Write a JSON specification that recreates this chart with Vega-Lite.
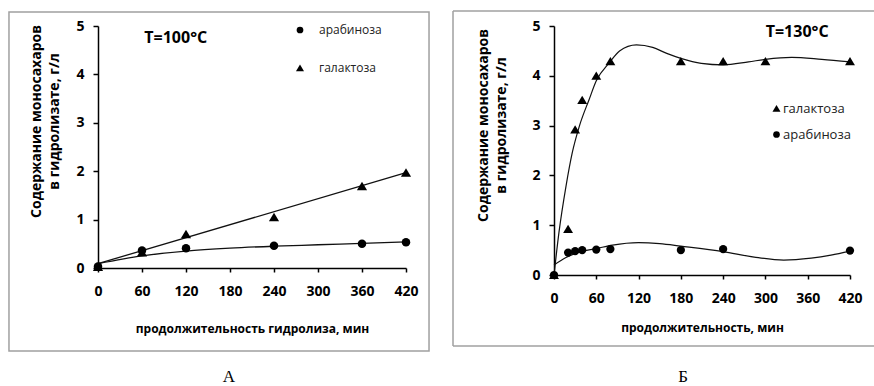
{
  "$schema": "https://vega.github.io/schema/vega-lite/v6.json",
  "padding": {"left": 8, "top": 10, "right": 0, "bottom": 0},
  "bounds": "flush",
  "spacing": 148,
  "background": "white",
  "config": {
    "view": {"stroke": null},
    "axis": {
      "grid": false, "domainColor": "#000", "domainWidth": 1.5, "tickColor": "#000", "tickWidth": 1.5,
      "labelFont": "Open Sans", "labelFontWeight": "bold", "labelFontSize": 14, "labelColor": "#000", "labelFlush": false,
      "titleFont": "Open Sans", "titleFontWeight": "bold", "titleFontSize": 12, "titleColor": "#000"
    },
    "axisX": {"tickSize": 4, "labelPadding": 12},
    "axisY": {"tickSize": 5, "labelPadding": 9, "titleLineHeight": 18, "titleFontSize": 14},
    "legend": {"padding": 0, "labelFont": "Open Sans", "labelFontSize": 12, "labelColor": "#222", "symbolFillColor": "#000", "symbolStrokeColor": "#000", "symbolSize": 45, "title": null}
  },
  "resolve": {"scale": {"shape": "independent"}, "legend": {"shape": "independent"}},
  "datasets": {
    "ptsA": [
      {"t": 0, "v": 0.03, "c": "арабиноза"}, {"t": 60, "v": 0.36, "c": "арабиноза"}, {"t": 120, "v": 0.41, "c": "арабиноза"},
      {"t": 240, "v": 0.46, "c": "арабиноза"}, {"t": 360, "v": 0.5, "c": "арабиноза"}, {"t": 420, "v": 0.53, "c": "арабиноза"},
      {"t": 0, "v": 0.02, "c": "галактоза"}, {"t": 60, "v": 0.32, "c": "галактоза"}, {"t": 120, "v": 0.7, "c": "галактоза"},
      {"t": 240, "v": 1.05, "c": "галактоза"}, {"t": 360, "v": 1.69, "c": "галактоза"}, {"t": 420, "v": 1.97, "c": "галактоза"}
    ],
    "fitA": [
      {"t": 0, "v": 0.09, "c": "галактоза"}, {"t": 420, "v": 1.97, "c": "галактоза"},
      {"t": 0, "v": 0.09, "c": "арабиноза"}, {"t": 60, "v": 0.25, "c": "арабиноза"}, {"t": 120, "v": 0.35, "c": "арабиноза"},
      {"t": 180, "v": 0.41, "c": "арабиноза"}, {"t": 240, "v": 0.45, "c": "арабиноза"}, {"t": 300, "v": 0.48, "c": "арабиноза"},
      {"t": 360, "v": 0.51, "c": "арабиноза"}, {"t": 420, "v": 0.54, "c": "арабиноза"}
    ],
    "ptsB": [
      {"t": 0, "v": 0, "c": "галактоза"}, {"t": 20, "v": 0.92, "c": "галактоза"}, {"t": 30, "v": 2.92, "c": "галактоза"},
      {"t": 40, "v": 3.51, "c": "галактоза"}, {"t": 60, "v": 4.0, "c": "галактоза"}, {"t": 80, "v": 4.29, "c": "галактоза"},
      {"t": 180, "v": 4.29, "c": "галактоза"}, {"t": 240, "v": 4.29, "c": "галактоза"}, {"t": 300, "v": 4.29, "c": "галактоза"},
      {"t": 420, "v": 4.29, "c": "галактоза"},
      {"t": 0, "v": 0, "c": "арабиноза"}, {"t": 20, "v": 0.45, "c": "арабиноза"}, {"t": 30, "v": 0.48, "c": "арабиноза"},
      {"t": 40, "v": 0.5, "c": "арабиноза"}, {"t": 60, "v": 0.51, "c": "арабиноза"}, {"t": 80, "v": 0.52, "c": "арабиноза"},
      {"t": 180, "v": 0.5, "c": "арабиноза"}, {"t": 240, "v": 0.52, "c": "арабиноза"}, {"t": 420, "v": 0.49, "c": "арабиноза"}
    ],
    "fitB": [
      {"t": 0, "v": 0.0, "c": "галактоза"}, {"t": 7, "v": 0.85, "c": "галактоза"}, {"t": 17, "v": 1.78, "c": "галактоза"},
      {"t": 26, "v": 2.46, "c": "галактоза"}, {"t": 36, "v": 2.99, "c": "галактоза"}, {"t": 50, "v": 3.53, "c": "галактоза"},
      {"t": 60, "v": 3.9, "c": "галактоза"}, {"t": 79, "v": 4.27, "c": "галактоза"}, {"t": 93, "v": 4.5, "c": "галактоза"},
      {"t": 117, "v": 4.62, "c": "галактоза"}, {"t": 140, "v": 4.57, "c": "галактоза"}, {"t": 160, "v": 4.45, "c": "галактоза"},
      {"t": 180, "v": 4.35, "c": "галактоза"}, {"t": 209, "v": 4.25, "c": "галактоза"}, {"t": 240, "v": 4.22, "c": "галактоза"},
      {"t": 276, "v": 4.28, "c": "галактоза"}, {"t": 300, "v": 4.33, "c": "галактоза"}, {"t": 337, "v": 4.37, "c": "галактоза"},
      {"t": 380, "v": 4.33, "c": "галактоза"}, {"t": 420, "v": 4.28, "c": "галактоза"},
      {"t": 0, "v": 0.2, "c": "арабиноза"}, {"t": 17, "v": 0.35, "c": "арабиноза"}, {"t": 36, "v": 0.46, "c": "арабиноза"},
      {"t": 60, "v": 0.53, "c": "арабиноза"}, {"t": 83, "v": 0.6, "c": "арабиноза"}, {"t": 120, "v": 0.65, "c": "арабиноза"},
      {"t": 150, "v": 0.63, "c": "арабиноза"}, {"t": 180, "v": 0.58, "c": "арабиноза"}, {"t": 240, "v": 0.47, "c": "арабиноза"},
      {"t": 284, "v": 0.36, "c": "арабиноза"}, {"t": 326, "v": 0.3, "c": "арабиноза"}, {"t": 365, "v": 0.34, "c": "арабиноза"},
      {"t": 393, "v": 0.4, "c": "арабиноза"}, {"t": 420, "v": 0.48, "c": "арабиноза"}
    ]
  },
  "hconcat": [
    {
      "width": 308, "height": 242,
      "title": {"text": "А", "orient": "bottom", "font": "Liberation Serif", "fontSize": 17, "fontWeight": "normal", "color": "#000", "offset": 17, "dx": -23},
      "layer": [
        {
          "data": {"values": [{}]},
          "mark": {"type": "rect", "fill": null, "stroke": "#a0a0a0", "strokeWidth": 1.5, "clip": false},
          "encoding": {
            "x": {"datum": -121.4, "type": "quantitative", "scale": {"domain": [0, 420], "nice": false, "zero": false}},
            "x2": {"datum": 451.4},
            "y": {"datum": 5.289, "type": "quantitative", "scale": {"domain": [0, 5], "nice": false}},
            "y2": {"datum": -1.715}
          }
        },
        {
          "data": {"name": "fitA"},
          "mark": {"type": "line", "color": "#111", "strokeWidth": 1.3, "interpolate": "monotone"},
          "encoding": {
            "x": {"field": "t", "type": "quantitative", "scale": {"domain": [0, 420], "nice": false, "zero": false}},
            "y": {"field": "v", "type": "quantitative", "scale": {"domain": [0, 5], "nice": false}},
            "detail": {"field": "c"}
          }
        },
        {
          "data": {"name": "ptsA"},
          "mark": {"type": "point", "filled": true, "color": "#000", "opacity": 1, "size": 72},
          "encoding": {
            "x": {"field": "t", "type": "quantitative", "scale": {"domain": [0, 420], "nice": false, "zero": false},
                  "axis": {"values": [0, 60, 120, 180, 240, 300, 360, 420], "title": "продолжительность гидролиза, мин", "titlePadding": 25}},
            "y": {"field": "v", "type": "quantitative", "scale": {"domain": [0, 5], "nice": false},
                  "axis": {"values": [0, 1, 2, 3, 4, 5], "title": ["Содержание моносахаров", "в гидролизате, г/л"], "titlePadding": 14, "titleY": 95}},
            "shape": {"field": "c", "type": "nominal",
                      "scale": {"domain": ["арабиноза", "галактоза"], "range": ["circle", "M0,-1.05L1.2,0.95L-1.2,0.95Z"]},
                      "legend": {"orient": "none", "legendX": 196, "legendY": -2, "labelOffset": 13, "rowPadding": 24}}
          }
        },
        {
          "data": {"values": [{}]},
          "mark": {"type": "text", "text": "T=100°C", "font": "Open Sans", "fontWeight": "bold", "fontSize": 16, "color": "#000", "align": "center", "baseline": "middle"},
          "encoding": {
            "x": {"datum": 106, "type": "quantitative"},
            "y": {"datum": 4.75, "type": "quantitative"}
          }
        }
      ]
    },
    {
      "width": 296, "height": 249,
      "title": {"text": "Б", "orient": "bottom", "font": "Liberation Serif", "fontSize": 17, "fontWeight": "normal", "color": "#000", "offset": 22, "dx": -19},
      "layer": [
        {
          "data": {"values": [{}]},
          "mark": {"type": "rule", "stroke": "#a0a0a0", "strokeWidth": 1.5, "clip": false},
          "encoding": {
            "x": {"datum": -143.3, "type": "quantitative", "scale": {"domain": [0, 420], "nice": false, "zero": false}},
            "x2": {"datum": 455},
            "y": {"datum": 5.3, "type": "quantitative", "scale": {"domain": [0, 5], "nice": false}}
          }
        },
        {
          "data": {"values": [{}]},
          "mark": {"type": "rule", "stroke": "#a0a0a0", "strokeWidth": 1.5, "clip": false},
          "encoding": {
            "x": {"datum": -143.3, "type": "quantitative"},
            "x2": {"datum": 455},
            "y": {"datum": -1.426, "type": "quantitative"}
          }
        },
        {
          "data": {"values": [{}]},
          "mark": {"type": "rule", "stroke": "#a0a0a0", "strokeWidth": 1.5, "clip": false},
          "encoding": {
            "x": {"datum": -143.3, "type": "quantitative"},
            "y": {"datum": 5.3, "type": "quantitative"},
            "y2": {"datum": -1.426}
          }
        },
        {
          "data": {"name": "fitB"},
          "mark": {"type": "line", "color": "#111", "strokeWidth": 1.2, "interpolate": "monotone"},
          "encoding": {
            "x": {"field": "t", "type": "quantitative", "scale": {"domain": [0, 420], "nice": false, "zero": false}},
            "y": {"field": "v", "type": "quantitative", "scale": {"domain": [0, 5], "nice": false}},
            "detail": {"field": "c"}
          }
        },
        {
          "data": {"name": "ptsB"},
          "mark": {"type": "point", "filled": true, "color": "#000", "opacity": 1, "size": 68},
          "encoding": {
            "x": {"field": "t", "type": "quantitative", "scale": {"domain": [0, 420], "nice": false, "zero": false},
                  "axis": {"values": [0, 60, 120, 180, 240, 300, 360, 420], "title": "продолжительность, мин", "titlePadding": 17}},
            "y": {"field": "v", "type": "quantitative", "scale": {"domain": [0, 5], "nice": false},
                  "axis": {"values": [0, 1, 2, 3, 4, 5], "title": ["Содержание моносахаров", "в гидролизате, г/л"], "titlePadding": 23, "titleY": 99}},
            "shape": {"field": "c", "type": "nominal",
                      "scale": {"domain": ["галактоза", "арабиноза"], "range": ["M0,-1.05L1.2,0.95L-1.2,0.95Z", "circle"]},
                      "legend": {"orient": "none", "legendX": 216, "legendY": 76, "labelOffset": 0, "rowPadding": 12, "labelFontSize": 13}}
          }
        },
        {
          "data": {"values": [{}]},
          "mark": {"type": "text", "text": "T=130°C", "font": "Open Sans", "fontWeight": "bold", "fontSize": 16, "color": "#000", "align": "center", "baseline": "middle"},
          "encoding": {
            "x": {"datum": 345, "type": "quantitative"},
            "y": {"datum": 4.88, "type": "quantitative"}
          }
        }
      ]
    }
  ]
}
